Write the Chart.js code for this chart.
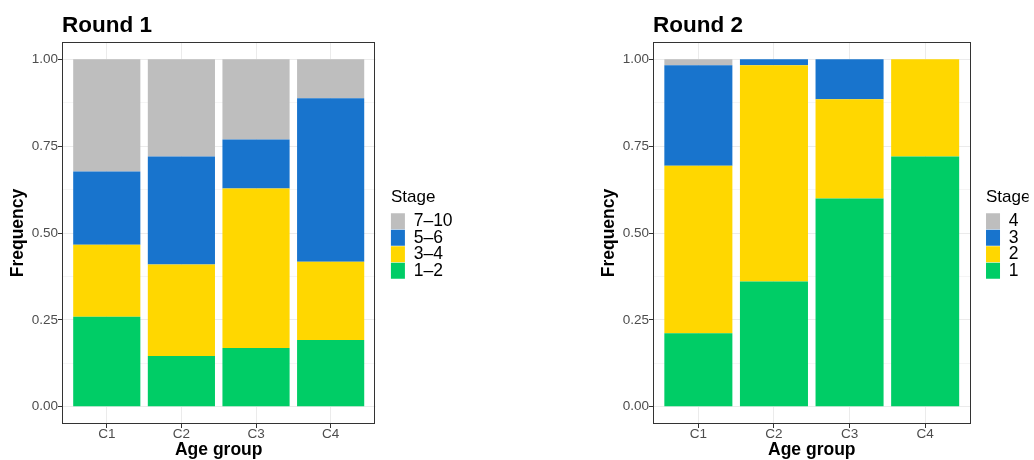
<!DOCTYPE html>
<html>
<head>
<meta charset="utf-8">
<script src="https://cdn.jsdelivr.net/npm/chart.js@4"></script>
<style>
  body { margin: 0; background: #fff; }
  .panel { position: absolute; top: 0; width: 517px; height: 460px; }
</style>
</head>
<body>
<div class="panel" style="left:0"><canvas id="round1"></canvas></div>
<div class="panel" style="left:517px"><canvas id="round2"></canvas></div>
<script>
const categories = ['C1', 'C2', 'C3', 'C4'];
const yTickLabels = ['0.00', '0.25', '0.50', '0.75', '1.00'];

// Round 1 proportions, bottom to top
const round1Stages = ['1–2', '3–4', '5–6', '7–10'];
const round1Stage12 = [0.259, 0.146, 0.169, 0.192];
const round1Stage34 = [0.207, 0.263, 0.459, 0.225];
const round1Stage56 = [0.211, 0.311, 0.141, 0.471];
const round1Stage710 = [0.323, 0.280, 0.231, 0.112];

// Round 2 proportions, bottom to top
const round2Stages = ['1', '2', '3', '4'];
const round2Stage1 = [0.211, 0.360, 0.599, 0.720];
const round2Stage2 = [0.483, 0.623, 0.286, 0.280];
const round2Stage3 = [0.289, 0.017, 0.115, 0.000];
const round2Stage4 = [0.017, 0.000, 0.000, 0.000];

const stageColors = ['#00CD66', '#FFD700', '#1874CD', '#BEBEBE'];

Chart.defaults.font.family = "'Liberation Sans', Arial, sans-serif";
Chart.defaults.animation = false;

// ggplot style panel border drawn over the bars
const panelBorder = {
    id: 'panelBorder',
    afterDatasetsDraw(chart) {
        const a = chart.chartArea;
        const c = chart.ctx;
        c.save();
        c.strokeStyle = '#333333';
        c.lineWidth = 1;
        c.strokeRect(Math.round(a.left) + 0.5, Math.round(a.top) + 0.5,
            Math.round(a.right - a.left) - 1, Math.round(a.bottom - a.top) - 1);
        c.restore();
    }
};

function isMajor(v) {
    return Math.abs(v * 4 - Math.round(v * 4)) < 1e-9;
}

function makeChart(id, title, stages, series, padLeft, padRight) {
    const positions = categories.map((c, i) => i + 1);
    const datasets = series.map((vals, s) => ({
        label: stages[s],
        data: positions.map((x, i) => ({x: x, y: vals[i]})),
        backgroundColor: stageColors[s],
        borderWidth: 0,
        barPercentage: 0.9,
        categoryPercentage: 1
    }));

    return new Chart(document.getElementById(id), {
        type: 'bar',
        data: {datasets: datasets},
        plugins: [panelBorder],
        options: {
            responsive: true,
            maintainAspectRatio: false,
            layout: {padding: {left: padLeft, right: padRight, top: 0, bottom: 0}},
            plugins: {
                tooltip: {enabled: false},
                title: {
                    display: true,
                    text: title,
                    align: 'start',
                    fullSize: false,
                    color: '#000',
                    font: {size: 22.5, weight: 'bold'},
                    padding: {top: 12.5, bottom: 2.5}
                },
                legend: {
                    position: 'right',
                    fullSize: false,
                    reverse: true,
                    title: {
                        display: true,
                        text: 'Stage',
                        position: 'start',
                        color: '#000',
                        font: {size: 17},
                        padding: {top: 1, bottom: 4.6}
                    },
                    labels: {
                        boxWidth: 15,
                        boxHeight: 16,
                        padding: -1,
                        color: '#000',
                        font: {size: 17.5}
                    }
                }
            },
            scales: {
                x: {
                    type: 'linear',
                    stacked: true,
                    offset: false,
                    min: 0.4,
                    max: 4.6,
                    afterFit: s => { s.height = 36; },
                    border: {display: false},
                    grid: {
                        offset: false,
                        color: '#EBEBEB',
                        lineWidth: 1,
                        tickColor: '#333333',
                        tickLength: 4
                    },
                    ticks: {
                        stepSize: 1,
                        includeBounds: false,
                        autoSkip: false,
                        maxRotation: 0,
                        padding: -2,
                        color: '#4D4D4D',
                        font: {size: 13.5},
                        callback: v => categories[v - 1] || ''
                    },
                    title: {
                        display: true,
                        text: 'Age group',
                        color: '#000',
                        font: {size: 17.5, weight: 'bold'},
                        padding: {top: 0, bottom: -1}
                    }
                },
                y: {
                    stacked: true,
                    min: -0.05,
                    max: 1.05,
                    afterFit: s => { s.width = 62; },
                    border: {display: false},
                    grid: {
                        color: '#EBEBEB',
                        lineWidth: c => isMajor(c.tick.value) ? 1 : 0.5,
                        tickColor: c => isMajor(c.tick.value) ? '#333333' : 'rgba(0,0,0,0)',
                        tickLength: 4
                    },
                    ticks: {
                        stepSize: 0.125,
                        includeBounds: false,
                        autoSkip: false,
                        padding: 0,
                        color: '#4D4D4D',
                        font: {size: 13.5},
                        callback: v => isMajor(v) ? yTickLabels[Math.round(v * 4)] : ''
                    },
                    title: {
                        display: true,
                        text: 'Frequency',
                        color: '#000',
                        font: {size: 17.5, weight: 'bold'},
                        padding: {top: 7.5, bottom: 0}
                    }
                },
                gap: {
                    type: 'linear',
                    position: 'right',
                    display: true,
                    afterFit: s => { s.width = 15.5; },
                    border: {display: false},
                    grid: {display: false},
                    ticks: {display: false}
                }
            }
        }
    });
}

makeChart('round1', 'Round 1', round1Stages,
    [round1Stage12, round1Stage34, round1Stage56, round1Stage710], 0, 54.4);
makeChart('round2', 'Round 2', round2Stages,
    [round2Stage1, round2Stage2, round2Stage3, round2Stage4], 74, 5.5);
</script>
</body>
</html>
